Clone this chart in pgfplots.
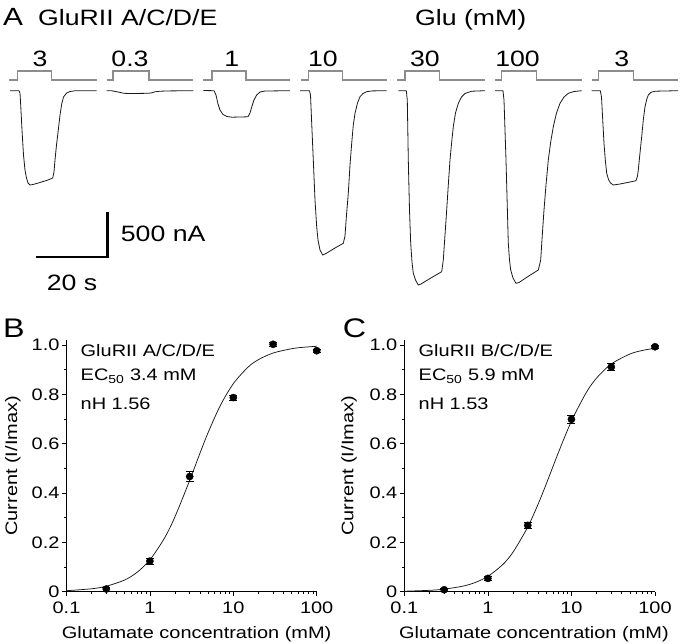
\documentclass[border=0pt]{standalone}
\usepackage{fontspec}
\setmainfont{Liberation Sans}[FakeStretch=1.2]
\usepackage{pgfplots}
\pgfplotsset{compat=1.18}
\definecolor{stepgray}{RGB}{140,140,140}
\definecolor{tracecol}{RGB}{25,25,25}
\begin{document}
\begin{tikzpicture}
\useasboundingbox (0,0) rectangle (680bp,-644bp);
% ---------------- Panel A ----------------
\begin{axis}[at={(0bp,0bp)}, anchor=north west, scale only axis,
  width=680bp, height=300bp, xmin=0, xmax=680, ymin=0, ymax=300,
  y dir=reverse, hide axis, clip=false]
% stimulus steps
\addplot[stepgray, line width=1.2bp, no marks] coordinates {(9.3,80)(17.7,80)(17.7,71)(51.7,71)(51.7,80)(96.7,80)};
\addplot[stepgray, line width=1.2bp, no marks] coordinates {(106.7,80)(113,80)(113,71)(149,71)(149,80)(193.3,80)};
\addplot[stepgray, line width=1.2bp, no marks] coordinates {(203.3,80)(212,80)(212,71)(246,71)(246,80)(290,80)};
\addplot[stepgray, line width=1.2bp, no marks] coordinates {(300.7,80)(308.3,80)(308.3,71)(342.7,71)(342.7,80)(386.7,80)};
\addplot[stepgray, line width=1.2bp, no marks] coordinates {(397.3,80)(405,80)(405,71)(439.3,71)(439.3,80)(485,80)};
\addplot[stepgray, line width=1.2bp, no marks] coordinates {(495,80)(501.7,80)(501.7,71)(536.7,71)(536.7,80)(581.7,80)};
\addplot[stepgray, line width=1.2bp, no marks] coordinates {(591.7,80)(598.3,80)(598.3,71)(633.3,71)(633.3,80)(678.3,80)};
% current traces
\addplot[tracecol, line width=0.8bp, no marks] coordinates {(10,90.7)(19,90.7)(20,93)(20.7,105)(22,130)(23.5,155)(25,170)(26.5,178)(28,183)(30,185)(33,184.5)(40,182.5)(48,180)(52.7,178)(54,172)(55,160)(56.5,145)(58.3,130)(60,115)(61.7,104)(63.5,97)(66.7,93)(70,91.5)(75,90.8)(96.7,90.7)};
\addplot[tracecol, line width=0.8bp, no marks] coordinates {(106.7,90.7)(112,90.8)(118,92)(124,93.3)(130,93.5)(148,93.3)(152,92.8)(155,91.8)(160,91.2)(170,90.9)(193.3,90.7)};
\addplot[tracecol, line width=0.8bp, no marks] coordinates {(203.3,90.5)(214,90.7)(216,95)(218,104)(220,110)(223,114.5)(227,116.5)(232,117.2)(248,116.8)(250,113)(252,106)(254,100)(256.7,95)(260,92)(265,91)(290,90.7)};
\addplot[tracecol, line width=0.8bp, no marks] coordinates {(300,90.7)(309.5,90.7)(310.5,95)(312,130)(313.3,160)(315,200)(316.7,226.7)(318,240)(320,250)(322.7,255)(326,253.5)(335,248)(343.3,243.3)(345,236)(346.5,215)(348.3,193.3)(350,165)(351.7,143.3)(353.3,125)(355,113.3)(357.5,103)(360,96.7)(363,93.5)(366.7,91.7)(372,90.9)(386.7,90.7)};
\addplot[tracecol, line width=0.8bp, no marks] coordinates {(398.3,90.7)(406.3,90.7)(407.3,100)(408.3,160)(409.5,210)(410.7,243.3)(412,262)(413.3,273.3)(415.5,280)(418.3,285)(421,284)(430,278.5)(441.7,271.7)(443.3,260)(445,235)(446.7,210)(448.3,185)(450,160)(451.7,142)(453.3,126.7)(455.5,113)(458.3,103.3)(461.5,97)(465,93.5)(471.7,91.2)(485,90.7)};
\addplot[tracecol, line width=0.8bp, no marks] coordinates {(495,90.7)(503,90.7)(504,100)(506,160)(508.3,243)(509.5,260)(510.7,270)(513,278)(516,283.3)(519,282.5)(528,276.5)(538.3,270)(540.7,260)(542.3,235)(544,210)(546,185)(548.3,160)(550.7,142)(553.3,126.7)(556.5,113)(560,103.3)(564,97)(568.3,93.3)(574,91.5)(581.7,90.7)};
\addplot[tracecol, line width=0.8bp, no marks] coordinates {(591.7,90.7)(600.3,90.7)(601.5,97)(603,125)(604,143.3)(605.3,160)(606.7,173.3)(608.5,179.5)(610.5,183)(613.3,185)(620,184)(630,182)(636,180.7)(637.5,176)(638.3,170)(640,153)(641.7,136.7)(643.3,120)(645,106.7)(646.7,99.5)(648.3,95)(651,92.3)(655,91.2)(678,90.7)};
% labels
\node[anchor=base west, font=\fontsize{25}{28}\selectfont, inner sep=0pt] at (axis cs:3,25) {A};
\node[anchor=base west, font=\fontsize{22.3}{26}\selectfont, inner sep=0pt] at (axis cs:38,25) {GluRII A/C/D/E};
\node[anchor=base west, font=\fontsize{22.3}{26}\selectfont, inner sep=0pt] at (axis cs:415,25) {Glu (mM)};
\begin{scope}[every node/.style={anchor=base, font=\fontsize{22.3}{26}\selectfont, inner sep=0pt}]
\node at (axis cs:40,66.7) {3};
\node at (axis cs:130,66.7) {0.3};
\node at (axis cs:231.7,66.7) {1};
\node at (axis cs:323,66.7) {10};
\node at (axis cs:425,66.7) {30};
\node at (axis cs:517.5,66.7) {100};
\node at (axis cs:621.7,66.7) {3};
\end{scope}
% scale bar
\draw[black, line width=2.2bp, line join=miter] (axis cs:36,257.3) -- (axis cs:107.5,257.3) -- (axis cs:107.5,212.3);
\node[anchor=base west, font=\fontsize{22.3}{26}\selectfont, inner sep=0pt] at (axis cs:120.7,241.7) {500 nA};
\node[anchor=base west, font=\fontsize{22.3}{26}\selectfont, inner sep=0pt] at (axis cs:46.7,290) {20 s};
% panel letters
\node[anchor=base west, font=\fontsize{27}{30}\selectfont, inner sep=0pt] at (axis cs:3,337) {B};
\node[anchor=base west, font=\fontsize{27}{30}\selectfont, inner sep=0pt] at (axis cs:342.7,337) {C};
% in-panel annotations
\begin{scope}[every node/.style={anchor=base west, font=\fontsize{16.7}{20}\selectfont, inner sep=0pt}]
\node at (axis cs:80.5,356) {GluRII A/C/D/E};
\node at (axis cs:80.5,380.5) {EC\textsubscript{50} 3.4 mM};
\node at (axis cs:80.5,409) {nH 1.56};
\node at (axis cs:418.5,356) {GluRII B/C/D/E};
\node at (axis cs:418.5,380.5) {EC\textsubscript{50} 5.9 mM};
\node at (axis cs:418.5,409) {nH 1.53};
\end{scope}
\end{axis}
% ---------------- Panel B ----------------
\begin{axis}[xmode=log, at={(66.5bp,-591.7bp)}, anchor=south west, width=250.2bp,
  scale only axis, height=251.6bp,
  xmin=0.1, xmax=100, ymin=0, ymax=1.02,
  axis x line*=bottom, axis y line*=left,
  axis line style={-, line width=0.8bp, black},
  tick align=outside, major tick length=4.5bp, minor tick length=2.5bp,
  tick style={black, line width=0.7bp},
  xtick={0.1,1,10,100}, xticklabels={0.1,1,10,100},
  minor xtick={0.2,0.3,0.4,0.5,0.6,0.7,0.8,0.9,2,3,4,5,6,7,8,9,20,30,40,50,60,70,80,90},
  ytick={0,0.2,0.4,0.6,0.8,1.0}, yticklabels={0,0.2,0.4,0.6,0.8,1.0},
  minor ytick={0.1,0.3,0.5,0.7,0.9},
  tick label style={font=\fontsize{16.7}{20}\selectfont},
  xticklabel style={yshift=-2bp},
  yticklabel style={xshift=1bp},
  label style={font=\fontsize{16.7}{20}\selectfont},
  xlabel={Glutamate concentration (mM)},
  ylabel={Current (I/Imax)},
  ylabel style={at={(axis description cs:-0.215,0.5)}, anchor=center},
  xlabel style={at={(axis description cs:0.52,-0.185)}, anchor=base},
  clip=false]
\addplot[tracecol, line width=0.75bp, smooth, mark=none] coordinates {(0.1,0.0041)(0.2,0.0119)(0.3,0.0222)(0.5,0.0478)(0.7,0.0783)(1,0.1291)(1.5,0.2181)(2,0.3041)(3,0.4513)(4,0.5630)(5,0.6460)(7,0.7552)(10,0.8433)(15,0.9102)(20,0.9407)(30,0.9676)(50,0.9851)(70,0.9911)(100,0.9949)};
\addplot[only marks, mark=*, mark size=3.6bp, black,
    error bars/y dir=both, error bars/y explicit,
    error bars/error bar style={line width=0.7bp, black},
    error bars/error mark options={rotate=90, mark size=4bp, line width=0.7bp, black}]
  coordinates {(0.3,0.011) +- (0,0.008) (1,0.124) +- (0,0.012) (3,0.467) +- (0,0.02) (10,0.787) +- (0,0.01) (30,1.003) +- (0,0.008) (100,0.977) +- (0,0.006)};
\end{axis}
% ---------------- Panel C ----------------
\begin{axis}[xmode=log, at={(404.3bp,-591.7bp)}, anchor=south west, width=250.7bp,
  scale only axis, height=251.6bp,
  xmin=0.1, xmax=100, ymin=0, ymax=1.02,
  axis x line*=bottom, axis y line*=left,
  axis line style={-, line width=0.8bp, black},
  tick align=outside, major tick length=4.5bp, minor tick length=2.5bp,
  tick style={black, line width=0.7bp},
  xtick={0.1,1,10,100}, xticklabels={0.1,1,10,100},
  minor xtick={0.2,0.3,0.4,0.5,0.6,0.7,0.8,0.9,2,3,4,5,6,7,8,9,20,30,40,50,60,70,80,90},
  ytick={0,0.2,0.4,0.6,0.8,1.0}, yticklabels={0,0.2,0.4,0.6,0.8,1.0},
  minor ytick={0.1,0.3,0.5,0.7,0.9},
  tick label style={font=\fontsize{16.7}{20}\selectfont},
  xticklabel style={yshift=-2bp},
  yticklabel style={xshift=1bp},
  label style={font=\fontsize{16.7}{20}\selectfont},
  xlabel={Glutamate concentration (mM)},
  ylabel={Current (I/Imax)},
  ylabel style={at={(axis description cs:-0.22,0.5)}, anchor=center},
  xlabel style={at={(axis description cs:0.517,-0.185)}, anchor=base},
  clip=false]
\addplot[tracecol, line width=0.75bp, smooth, mark=none] coordinates {(0.1,0.0020)(0.2,0.0056)(0.3,0.0104)(0.5,0.0224)(0.7,0.0369)(1,0.0621)(1.5,0.1096)(2,0.1604)(3,0.2622)(4,0.3556)(5,0.4370)(7,0.5650)(10,0.6915)(15,0.8066)(20,0.8662)(30,0.9233)(50,0.9634)(70,0.9778)(100,0.9870)};
\addplot[only marks, mark=*, mark size=3.6bp, black,
    error bars/y dir=both, error bars/y explicit,
    error bars/error bar style={line width=0.7bp, black},
    error bars/error mark options={rotate=90, mark size=4bp, line width=0.7bp, black}]
  coordinates {(0.3,0.008) +- (0,0.005) (1,0.054) +- (0,0.008) (3,0.269) +- (0,0.012) (10,0.699) +- (0,0.016) (30,0.911) +- (0,0.014) (100,0.993) +- (0,0.005)};
\end{axis}
\end{tikzpicture}
\end{document}
